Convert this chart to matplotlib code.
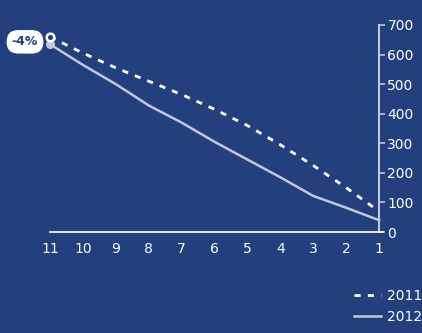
import matplotlib.pyplot as plt

bg = '#233f7e'
grey = '#c3c7d8'

months = [11, 10, 9, 8, 7, 6, 5, 4, 3, 2, 1]
vals_2011 = [660, 605, 555, 510, 465, 415, 360, 295, 225, 150, 70]
vals_2012 = [635, 565, 500, 428, 370, 305, 245, 185, 122, 82, 40]
change_label = '-4%'

fig = plt.figure(figsize=(4.22, 3.33), dpi=100, facecolor=bg)
ax = fig.add_axes([50 / 422, 1 - 232 / 333, 333 / 422, 207 / 333], facecolor=bg)

ax.plot(months, vals_2011, color='white', lw=2, linestyle=(0, (2.2, 2.6)), label='2011')
ax.plot(months, vals_2012, color=grey, lw=1.8, label='2012')
ax.plot(months[0], vals_2012[0], 'o', ms=5.5, color=grey, clip_on=False, zorder=4)
ax.plot(months[0], vals_2011[0], 'o', ms=5.5, mfc=bg, mec='white', mew=1.8,
        clip_on=False, zorder=5)

ax.set_xlim(11, 0.88)
ax.set_ylim(0, 700)
ax.set_xticks(months)
ax.set_yticks(range(0, 701, 100))

for s in ['top', 'left']:
    ax.spines[s].set_visible(False)
ax.spines['right'].set_position(('data', 1))
ax.spines['right'].set_color(grey)
ax.spines['right'].set_linewidth(1.5)
ax.spines['bottom'].set_color('white')
ax.spines['bottom'].set_linewidth(1.2)

ax.yaxis.tick_right()
ax.tick_params(axis='y', colors=grey, labelcolor='white', length=4, width=1.2,
               direction='out', labelsize=10, pad=2)
ax.tick_params(axis='x', length=0, labelcolor='white', labelsize=10, pad=7)

# percentage change badge next to the first point
ax.annotate(change_label, xy=(months[0], vals_2011[0]), xytext=(-18, -3.6),
            textcoords='offset points', ha='center', va='center',
            fontsize=9, fontweight='bold', color=bg, annotation_clip=False,
            bbox=dict(boxstyle='round,pad=0.42,rounding_size=0.95', fc='white', ec='none'))

leg = fig.legend(loc='lower right', bbox_to_anchor=(1.03, -0.01), frameon=False,
                 labelcolor='white', fontsize=10, handlelength=2.0,
                 handletextpad=0.4, labelspacing=0.5)

fig.savefig('out.png', dpi=100, facecolor=bg)
